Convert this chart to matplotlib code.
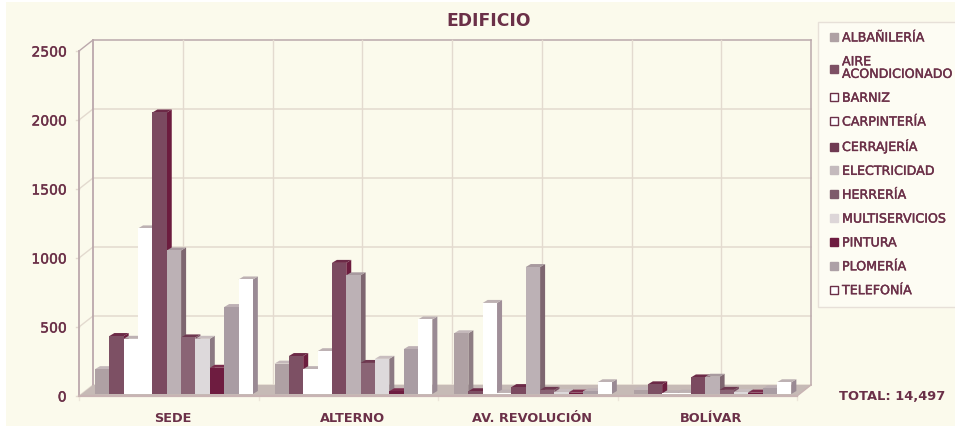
import matplotlib
matplotlib.use("Agg")
import matplotlib.pyplot as plt
import matplotlib.patheffects as pe
from matplotlib.patches import Polygon, Rectangle
from matplotlib.lines import Line2D

# ---------- data ----------
groups = ["SEDE", "ALTERNO", "AV. REVOLUCIÓN", "BOLÍVAR"]
yticks = [0, 500, 1000, 1500, 2000, 2500]
names = ["ALBAÑILERÍA", "AIRE\nACONDICIONADO", "BARNIZ", "CARPINTERÍA", "CERRAJERÍA",
         "ELECTRICIDAD", "HERRERÍA", "MULTISERVICIOS", "PINTURA", "PLOMERÍA", "TELEFONÍA"]
albanileria = [180, 220, 440, 30]
aire = [420, 275, 20, 70]
barniz = [400, 180, 660, 5]
carpinteria = [1200, 310, 10, 10]
cerrajeria = [2040, 950, 50, 120]
electricidad = [1040, 860, 920, 125]
herreria = [410, 225, 30, 30]
multiservicios = [400, 255, 15, 15]
pintura = [190, 20, 10, 10]
plomeria = [630, 325, 20, 40]
telefonia = [830, 540, 85, 85]
series = [albanileria, aire, barniz, carpinteria, cerrajeria, electricidad,
          herreria, multiservicios, pintura, plomeria, telefonia]

front = ["#AFA1A4", "#7D5064", "#FFFFFF", "#FFFFFF", "#7B4A60", "#BCB1B5",
         "#8A6475", "#DDD9DB", "#6E1C40", "#A99CA3", "#FFFFFF"]
side = ["#8E7D83", "#6C1E3F", "#A08F99", "#A08F99", "#6C1C3E", "#7E6670",
        "#7A5265", "#8C7A83", "#5E1535", "#85737C", "#9A8A94"]
top = ["#C4B8BA", "#6C2A47", "#BDB1B3", "#BDB1B3", "#6C2A47", "#A89A9F",
       "#6E3850", "#C8BDBF", "#7A2B4C", "#BDB0B4", "#BDB1B3"]
legend_fc = ["#AFA1A4", "#7D5064", "#FFFFFF", "#FFFFFF", "#6F3A52", "#C4BABD",
             "#7D5A6B", "#DDD6D8", "#6E1C40", "#ADA0A6", "#FFFFFF"]

INK = "#6B3048"
BG = "#FBFAEC"
GRID = "#E3DACF"
EDGE = "#BBA8AC"
thick = [pe.withStroke(linewidth=0.3, foreground=INK)]

plt.rcParams["font.family"] = ["DejaVu Sans"]
W, H = 955, 431
fig = plt.figure(figsize=(W / 100, H / 100), dpi=100, facecolor="#FFFFFF")
fig.patches.append(Rectangle((6 / W, 4 / H), 1, (H - 7) / H, transform=fig.transFigure,
                             fc=BG, ec="none", zorder=-10))

# front plane of the 3-D box, in pixels
L, R, B, T = 79, 797, 397, 52
ax = fig.add_axes([L / W, (H - B) / H, (R - L) / W, (B - T) / H])
ax.patch.set_alpha(0)
ax.set_xlim(0, len(groups))
ax.set_ylim(0, yticks[-1])
for s in ax.spines.values():
    s.set_visible(False)

px = len(groups) / (R - L)
py = yticks[-1] / (B - T)
DX, DY = 14 * px, 11 * py          # depth of the box

nx = len(groups)
ymax = yticks[-1]
# floor
ax.add_patch(Polygon([(0, 0), (nx, 0), (nx + DX, DY), (DX, DY)], closed=True,
                     fc="#C6BAB6", ec="none", zorder=1, clip_on=False))
ax.plot([0, nx], [0, 0], color="#C8B3B3", lw=1.6, zorder=1.5, clip_on=False)
# grid on back wall and left wall
for v in yticks:
    c = EDGE if v == ymax else GRID
    ax.plot([DX, nx + DX], [v + DY, v + DY], color=c, lw=1.1, zorder=0.5, clip_on=False)
    ax.plot([0, DX], [v, v + DY], color=c, lw=1.0, zorder=0.5, clip_on=False)
    ax.plot([-3 * px, 0], [v, v], color=GRID, lw=1.0, zorder=0.5, clip_on=False)
for i in range(1, 2 * nx):
    ax.plot([DX + i / 2, DX + i / 2], [DY, ymax + DY], color=GRID, lw=1.0, zorder=0.5, clip_on=False)
for i in range(nx + 1):
    ax.plot([i, i], [-4 * py, 0], color="#EDE6DA", lw=1.0, zorder=0.5, clip_on=False)
ax.plot([0, 0], [0, ymax], color=EDGE, lw=1.3, zorder=0.6, clip_on=False)
ax.plot([DX, DX], [DY, ymax + DY], color=EDGE, lw=1.3, zorder=0.6, clip_on=False)
ax.plot([nx + DX, nx + DX], [DY, ymax + DY], color=EDGE, lw=1.1, zorder=0.6, clip_on=False)
ax.plot([nx, nx + DX], [0, DY], color="#C8B3B3", lw=1.0, zorder=1.5, clip_on=False)

# bars
bw = 14.35 * px
start = 16 * px
bdx, bdy = 5 * px, 3 * py
base = 2 * py
for k, vals in enumerate(series):
    z = 2 + k
    xs = [g + start + k * bw for g in range(nx)]
    ax.bar(xs, vals, width=bw, bottom=base, align="edge", color=front[k], lw=0, zorder=z + 0.5)
    for x, v in zip(xs, vals):
        t = base + v
        ax.add_patch(Polygon([(x + bw, base), (x + bw + bdx, base + bdy), (x + bw + bdx, t + bdy), (x + bw, t)],
                             closed=True, fc=side[k], ec="none", zorder=z + 0.2, clip_on=False))
        ax.add_patch(Polygon([(x, t), (x + bw, t), (x + bw + bdx, t + bdy), (x + bdx, t + bdy)],
                             closed=True, fc=top[k], ec="none", zorder=z + 0.2, clip_on=False))

# ticks and labels
ax.set_xticks([i + 0.5 + 4 * px for i in range(nx)])
ax.set_xticklabels(groups, fontweight="bold", fontsize=9.3, color=INK)
ax.set_yticks(yticks)
ax.set_yticklabels([str(v) for v in yticks], fontsize=10, color=INK, path_effects=thick)
ax.tick_params(axis="both", length=0)
ax.tick_params(axis="x", pad=11)
ax.tick_params(axis="y", pad=9)

fig.text(488.5 / W, 1 - 21 / H, "EDIFICIO", ha="center", va="center",
         fontweight="bold", fontsize=12.3, color=INK)
fig.text(892.5 / W, 1 - 397 / H, "TOTAL: 14,497", ha="center", va="center",
         fontweight="bold", fontsize=9.4, color=INK)

handles = [Line2D([], [], ls="none", marker="s", ms=5.2, mfc=legend_fc[i],
                  mec=INK if front[i] == "#FFFFFF" else legend_fc[i], mew=1)
           for i in range(len(names))]
leg = fig.legend(handles, names, loc="upper left", bbox_to_anchor=(818 / W, 1 - 23 / H),
                 bbox_transform=fig.transFigure, fontsize=9.1, labelcolor=INK, numpoints=1,
                 frameon=True, fancybox=False, facecolor="#FDFCF3", edgecolor="#E7E0D8",
                 handlelength=1.03, handleheight=0.7, handletextpad=0.12,
                 labelspacing=0.86, borderaxespad=0, borderpad=0.75, framealpha=1)
leg.get_frame().set_linewidth(1)
for t in leg.get_texts():
    t.set_linespacing(0.95)
    t.set_path_effects(thick)

fig.savefig("out.png", dpi=100, facecolor=fig.get_facecolor())
